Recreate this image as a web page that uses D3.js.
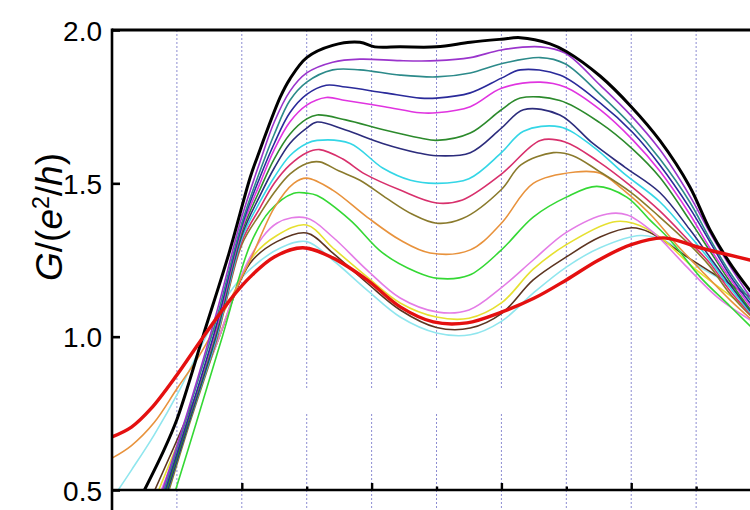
<!DOCTYPE html>
<html>
<head>
<meta charset="utf-8">
<script src="https://cdn.jsdelivr.net/npm/d3@7"></script>
<style>
  html, body { margin: 0; padding: 0; background: #fff; }
  svg { display: block; }
</style>
</head>
<body>
<svg id="chart" width="750" height="510"></svg>
<script>
// Conductance traces G (in units of e^2/h) versus gate position, one array per trace: [x, G]
const trace01 = [[0.5,0.5],[0.8,0.63],[1.0,0.73],[1.2,0.86],[1.4,1.0],[1.8,1.27],[2.13,1.52],[2.24,1.586],[2.59,1.78],[2.74,1.84],[3.0,1.91],[3.4,1.95],[3.82,1.96],[4.05,1.945],[4.44,1.945],[5.0,1.945],[5.52,1.96],[6.0,1.97],[6.29,1.975],[6.75,1.955],[7.0,1.93],[7.52,1.85],[8.0,1.75],[8.44,1.64],[8.9,1.49],[9.21,1.35],[9.52,1.24],[9.83,1.15]];
const trace02 = [[0.78,0.5],[1.2,0.78],[1.6,1.07],[2.0,1.39],[2.28,1.57],[2.5,1.70],[2.74,1.80],[3.0,1.86],[3.4,1.895],[3.82,1.905],[4.44,1.90],[5.0,1.90],[5.52,1.91],[6.0,1.935],[6.6,1.945],[6.98,1.925],[7.52,1.82],[8.0,1.72],[8.44,1.61],[8.9,1.46],[9.21,1.34],[9.52,1.23],[9.83,1.13]];
const trace03 = [[0.8,0.5],[1.2,0.77],[1.6,1.05],[2.0,1.37],[2.28,1.54],[2.5,1.66],[2.74,1.77],[3.0,1.83],[3.4,1.87],[3.82,1.87],[4.44,1.853],[5.0,1.847],[5.52,1.86],[6.0,1.89],[6.6,1.91],[6.98,1.89],[7.52,1.79],[8.0,1.69],[8.44,1.58],[8.9,1.44],[9.21,1.32],[9.52,1.21],[9.83,1.12]];
const trace04 = [[0.82,0.5],[1.2,0.75],[1.6,1.03],[2.0,1.36],[2.28,1.52],[2.5,1.63],[2.74,1.73],[3.0,1.79],[3.3,1.82],[3.6,1.814],[4.2,1.795],[4.75,1.778],[5.0,1.778],[5.52,1.795],[6.0,1.843],[6.29,1.87],[6.9,1.853],[7.52,1.762],[8.03,1.664],[8.44,1.56],[8.9,1.42],[9.21,1.31],[9.52,1.2],[9.83,1.11]];
const trace05 = [[0.8,0.5],[1.2,0.75],[1.6,1.02],[2.0,1.35],[2.28,1.50],[2.5,1.61],[2.74,1.70],[3.0,1.755],[3.3,1.78],[3.6,1.77],[4.2,1.75],[4.75,1.73],[5.0,1.73],[5.52,1.75],[6.0,1.81],[6.6,1.83],[6.98,1.814],[7.52,1.74],[8.03,1.64],[8.44,1.54],[8.9,1.40],[9.21,1.29],[9.52,1.19],[9.83,1.10]];
const trace06 = [[0.84,0.5],[1.2,0.74],[1.6,1.01],[2.0,1.34],[2.28,1.48],[2.5,1.58],[2.74,1.66],[3.0,1.71],[3.16,1.723],[3.6,1.707],[4.2,1.674],[4.75,1.648],[5.0,1.64],[5.52,1.664],[6.0,1.74],[6.29,1.778],[6.9,1.77],[7.52,1.697],[8.03,1.61],[8.44,1.52],[8.9,1.38],[9.21,1.28],[9.52,1.18],[9.83,1.09]];
const trace07 = [[0.86,0.5],[1.2,0.73],[1.6,1.0],[2.0,1.33],[2.28,1.46],[2.5,1.55],[2.74,1.63],[3.0,1.68],[3.16,1.70],[3.6,1.674],[4.17,1.63],[4.7,1.60],[5.0,1.59],[5.52,1.60],[6.0,1.68],[6.34,1.74],[6.9,1.723],[7.41,1.63],[7.9,1.553],[8.44,1.47],[8.9,1.35],[9.21,1.26],[9.52,1.17],[9.83,1.085]];
const trace08 = [[0.86,0.5],[1.2,0.73],[1.6,0.99],[2.0,1.32],[2.28,1.44],[2.5,1.52],[2.74,1.59],[3.0,1.63],[3.16,1.64],[3.67,1.63],[4.17,1.55],[4.6,1.51],[5.0,1.50],[5.5,1.515],[6.0,1.60],[6.34,1.67],[6.9,1.684],[7.41,1.62],[7.9,1.53],[8.44,1.44],[8.9,1.33],[9.21,1.25],[9.52,1.16],[9.83,1.08]];
const trace09 = [[0.83,0.5],[1.2,0.74],[1.6,0.99],[2.0,1.31],[2.28,1.42],[2.5,1.50],[2.74,1.56],[3.0,1.60],[3.2,1.61],[3.55,1.58],[3.9,1.53],[4.44,1.478],[5.0,1.436],[5.4,1.446],[6.0,1.53],[6.6,1.64],[6.98,1.635],[7.5,1.57],[8.0,1.49],[8.44,1.41],[8.9,1.31],[9.21,1.24],[9.52,1.15],[9.83,1.075]];
const trace10 = [[0.88,0.5],[1.2,0.72],[1.6,0.98],[2.0,1.30],[2.28,1.40],[2.5,1.47],[2.74,1.53],[3.0,1.565],[3.2,1.57],[3.5,1.54],[3.82,1.51],[4.24,1.45],[4.62,1.40],[5.0,1.37],[5.4,1.385],[6.0,1.48],[6.3,1.56],[6.8,1.60],[7.1,1.59],[7.5,1.54],[8.0,1.47],[8.44,1.39],[8.9,1.30],[9.21,1.23],[9.52,1.14],[9.83,1.07]];
const trace11 = [[0.0,0.604],[0.3,0.645],[0.65,0.72],[1.0,0.83],[1.35,0.94],[1.82,1.12],[2.13,1.25],[2.5,1.42],[2.8,1.50],[3.0,1.517],[3.4,1.478],[3.93,1.39],[4.44,1.315],[4.9,1.273],[5.52,1.283],[6.0,1.37],[6.49,1.50],[7.14,1.537],[7.52,1.533],[7.87,1.48],[8.29,1.40],[8.7,1.30],[9.06,1.22],[9.52,1.12],[9.83,1.06]];
const trace12 = [[0.98,0.5],[1.3,0.72],[1.7,1.0],[2.13,1.30],[2.43,1.41],[2.8,1.468],[3.0,1.468],[3.16,1.46],[3.67,1.38],[4.17,1.273],[4.7,1.21],[5.02,1.19],[5.5,1.20],[6.0,1.283],[6.49,1.39],[7.0,1.455],[7.47,1.49],[7.93,1.455],[8.29,1.38],[8.6,1.315],[9.06,1.195],[9.52,1.10],[9.83,1.035]];
const trace13 = [[0.76,0.5],[1.2,0.74],[1.6,0.97],[2.13,1.26],[2.54,1.37],[3.0,1.387],[3.4,1.325],[3.93,1.217],[4.44,1.126],[5.02,1.08],[5.5,1.087],[6.0,1.16],[6.49,1.25],[7.0,1.34],[7.63,1.40],[7.94,1.397],[8.34,1.34],[8.8,1.24],[9.32,1.13],[9.83,1.055]];
const trace14 = [[0.72,0.5],[1.2,0.75],[1.6,0.97],[2.13,1.25],[2.54,1.33],[3.0,1.364],[3.4,1.29],[3.93,1.195],[4.44,1.11],[5.0,1.064],[5.5,1.06],[6.0,1.11],[6.49,1.22],[7.0,1.30],[7.72,1.374],[8.03,1.37],[8.44,1.325],[8.95,1.227],[9.83,1.087]];
const trace15 = [[0.66,0.5],[1.2,0.76],[1.6,0.97],[2.13,1.24],[2.54,1.31],[3.0,1.338],[3.4,1.273],[3.93,1.175],[4.44,1.087],[5.0,1.03],[5.52,1.028],[6.0,1.075],[6.49,1.185],[7.0,1.26],[7.52,1.325],[8.01,1.355],[8.29,1.34],[8.86,1.26],[9.83,1.13]];
const trace16 = [[0.0,0.47],[0.3,0.565],[0.65,0.68],[1.05,0.83],[1.4,0.98],[1.8,1.14],[2.13,1.22],[2.6,1.29],[3.0,1.31],[3.4,1.25],[3.93,1.152],[4.44,1.064],[5.0,1.012],[5.52,1.006],[6.0,1.05],[6.49,1.142],[7.0,1.227],[7.52,1.29],[8.14,1.33],[8.55,1.31],[9.06,1.227],[9.83,1.14]];
const trace17 = [[0.0,0.673],[0.3,0.705],[0.6,0.765],[1.0,0.875],[1.36,0.985],[1.82,1.12],[2.13,1.195],[2.5,1.26],[2.94,1.29],[3.4,1.257],[3.93,1.185],[4.44,1.097],[4.95,1.048],[5.47,1.045],[6.0,1.08],[6.5,1.125],[7.0,1.185],[7.5,1.25],[8.0,1.30],[8.5,1.322],[9.06,1.29],[9.83,1.25]];

// Draw order: thin traces first, the two bold traces on top
const traces = [trace16, trace15, trace14, trace13, trace12, trace11, trace10, trace09, trace08, trace07, trace06, trace05, trace04, trace03, trace02, trace01, trace17];
const traceColors = ["#90e6ee", "#5c3420", "#e6e030", "#e47ce6", "#34d834", "#e8923c", "#8a7a2c", "#d8306c", "#34d6e6", "#2c2c7c", "#2c8a2c", "#e034e0", "#2a2a9a", "#2c8a8a", "#9a34cc", "#000000", "#e41010"];
const traceWidths = [1.6, 1.6, 1.6, 1.6, 1.6, 1.6, 1.6, 1.6, 1.6, 1.6, 1.6, 1.6, 1.6, 1.6, 1.6, 3, 3.4];

const yTicks = [0.5, 1.0, 1.5, 2.0];
const gridX = [1, 2, 3, 4, 5, 6, 7, 8, 9];
const majorX = [2, 4, 6, 8];
const minorX = [3, 5, 7, 9];

const svg = d3.select("#chart");
const plotLeft = 112, plotRight = 751, plotTop = 30, plotBottom = 490;

const x = d3.scaleLinear().domain([0, 9.83]).range([plotLeft, 750]);
const y = d3.scaleLinear().domain([0.5, 2.0]).range([plotBottom, plotTop]);

svg.append("defs").append("clipPath").attr("id", "plotClip")
  .append("rect").attr("x", plotLeft).attr("y", plotTop)
  .attr("width", plotRight - plotLeft).attr("height", plotBottom - plotTop);

// dotted vertical grid, running past the lower frame edge
svg.append("g").selectAll("line").data(gridX).join("line")
  .attr("x1", d => x(d)).attr("x2", d => x(d))
  .attr("y1", plotTop).attr("y2", 510)
  .attr("stroke", "#8c8cd2").attr("stroke-width", 1)
  .attr("stroke-dasharray", "2,2");

// blank inset panel over the grid
svg.append("rect").attr("x", 295).attr("y", 388).attr("width", 253).attr("height", 24).attr("fill", "#fff");

const line = d3.line()
  .x(d => x(d[0])).y(d => y(d[1]))
  .curve(d3.curveCatmullRom.alpha(0.5));

svg.append("g").attr("clip-path", "url(#plotClip)")
  .selectAll("path").data(traces).join("path")
  .attr("d", line)
  .attr("fill", "none")
  .attr("stroke", (d, i) => traceColors[i])
  .attr("stroke-width", (d, i) => traceWidths[i])
  .attr("stroke-linejoin", "round")
  .attr("stroke-linecap", "round");

// frame
svg.append("line").attr("x1", plotLeft).attr("x2", 750).attr("y1", plotTop).attr("y2", plotTop)
  .attr("stroke", "#000").attr("stroke-width", 3);
svg.append("line").attr("x1", plotLeft).attr("x2", 750).attr("y1", plotBottom).attr("y2", plotBottom)
  .attr("stroke", "#000").attr("stroke-width", 2.6);
svg.append("line").attr("x1", plotLeft).attr("x2", plotLeft).attr("y1", plotTop - 1.5).attr("y2", 510)
  .attr("stroke", "#000").attr("stroke-width", 2.6);

// y axis with inward ticks
const yAxis = svg.append("g").attr("transform", `translate(${plotLeft},0)`)
  .call(d3.axisLeft(y).tickValues(yTicks).tickFormat(d3.format(".1f")).tickSizeInner(-8).tickSizeOuter(0).tickPadding(10));
yAxis.select(".domain").remove();
yAxis.selectAll(".tick line").attr("stroke", "#000").attr("stroke-width", 2.6);
yAxis.selectAll(".tick text")
  .attr("font-family", "Liberation Sans, Arial, sans-serif")
  .attr("font-size", 28).attr("fill", "#000").attr("dy", "0.36em");

// x axis: inward major and minor ticks, labels fall outside the view
const xMajor = svg.append("g").attr("transform", `translate(0,${plotBottom})`)
  .call(d3.axisBottom(x).tickValues(majorX).tickSizeInner(-7).tickSizeOuter(0).tickFormat(""));
xMajor.select(".domain").remove();
xMajor.selectAll(".tick line").attr("stroke", "#000").attr("stroke-width", 2.4);
const xMinor = svg.append("g").attr("transform", `translate(0,${plotBottom})`)
  .call(d3.axisBottom(x).tickValues(minorX).tickSizeInner(-3.5).tickSizeOuter(0).tickFormat(""));
xMinor.select(".domain").remove();
xMinor.selectAll(".tick line").attr("stroke", "#000").attr("stroke-width", 2.4);

// y axis title: G/(e^2/h)
const title = svg.append("text")
  .attr("transform", "translate(62,217) rotate(-90)")
  .attr("text-anchor", "middle")
  .attr("font-family", "Liberation Sans, Arial, sans-serif")
  .attr("font-size", 37).attr("fill", "#000");
title.append("tspan").attr("font-style", "italic").text("G");
title.append("tspan").text("/(");
title.append("tspan").attr("font-style", "italic").text("e");
title.append("tspan").attr("font-size", 23).attr("dy", "-0.55em").text("2");
title.append("tspan").attr("dy", "0.35em").text("/");
title.append("tspan").attr("font-style", "italic").text("h");
title.append("tspan").text(")");
</script>
</body>
</html>
